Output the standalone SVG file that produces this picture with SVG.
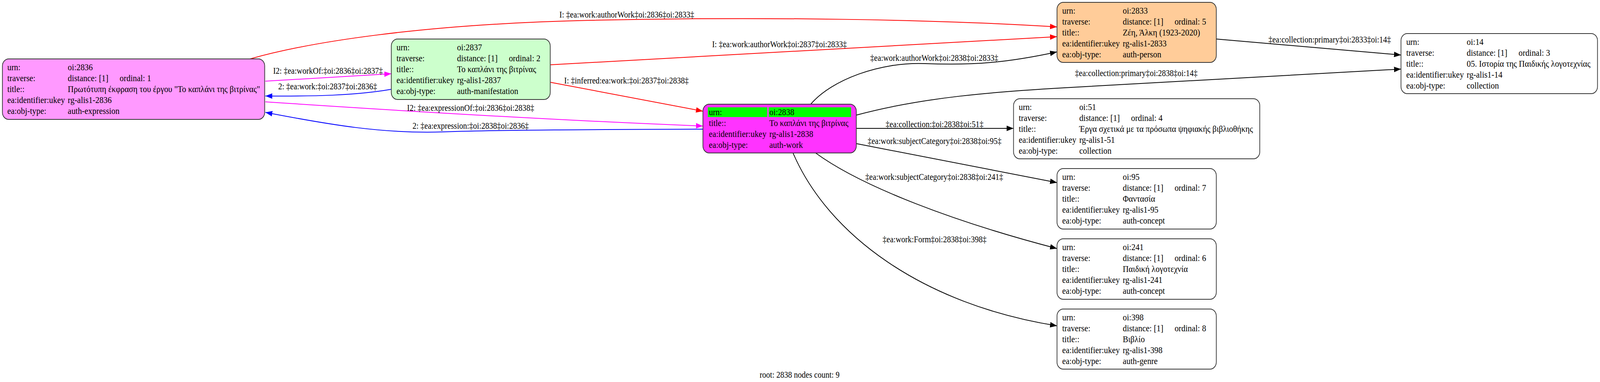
<svg xmlns="http://www.w3.org/2000/svg" width="4600" height="979" viewBox="0 0 4600 979">
<style>
text { font-family: "Liberation Serif", "Times New Roman", serif; font-size: 23.5px; fill: #000; }
.lbl { text-anchor: middle; font-size: 22.5px; }
.box { stroke: #333; stroke-width: 2; }
.e { fill: none; stroke-width: 2; }
.red { stroke: #ff0000; }
.mag { stroke: #ff00ff; }
.blu { stroke: #0000ff; }
.blk { stroke: #000; }
</style>
<defs>
<marker id="ar" markerUnits="userSpaceOnUse" markerWidth="20" markerHeight="14" refX="20" refY="7" orient="auto"><path d="M0,0 L20,7 L0,14 z" fill="#ff0000"/></marker>
<marker id="am" markerUnits="userSpaceOnUse" markerWidth="20" markerHeight="14" refX="20" refY="7" orient="auto"><path d="M0,0 L20,7 L0,14 z" fill="#ff00ff"/></marker>
<marker id="ab" markerUnits="userSpaceOnUse" markerWidth="20" markerHeight="14" refX="20" refY="7" orient="auto"><path d="M0,0 L20,7 L0,14 z" fill="#0000ff"/></marker>
<marker id="ak" markerUnits="userSpaceOnUse" markerWidth="20" markerHeight="14" refX="20" refY="7" orient="auto"><path d="M0,0 L20,7 L0,14 z" fill="#000"/></marker>
</defs>
<rect x="0" y="0" width="4600" height="979" fill="#fff"/>
<g id="diagram" transform="scale(0.8904 1)">
<g id="connectors">
<path class="e red" marker-end="url(#ar)" d="M719,151 C880,110 1200,62 1700,52 C2200,42 2700,50 3039,69"/>
<path class="e red" marker-end="url(#ar)" d="M1583,166 L3039,94"/>
<path class="e red" marker-end="url(#ar)" d="M1583,211 L2021,285"/>
<path class="e mag" marker-end="url(#am)" d="M763,208 L1125,189"/>
<path class="e blu" marker-end="url(#ab)" d="M1124,229 C1020,245 900,247 763,246"/>
<path class="e mag" marker-end="url(#am)" d="M763,261 Q1500,305 2021,323"/>
<path class="e blu" marker-end="url(#ab)" d="M2021,331 C1700,332 1450,333 1274,338 C1100,343 950,320 763,288"/>
<path class="e blk" marker-end="url(#ak)" d="M2331,267 C2390,205 2530,158 2660,163 C2800,168 2900,160 3039,133"/>
<path class="e blk" marker-end="url(#ak)" d="M2462,295 C2650,250 2850,235 3100,223 L4028,177"/>
<path class="e blk" marker-end="url(#ak)" d="M3497,100 L4028,141"/>
<path class="e blk" marker-end="url(#ak)" d="M2462,329 L2914,329"/>
<path class="e blk" marker-end="url(#ak)" d="M2462,368 L3039,468"/>
<path class="e blk" marker-end="url(#ak)" d="M2345,392 C2480,480 2750,570 3039,637"/>
<path class="e blk" marker-end="url(#ak)" d="M2280,392 C2380,600 2650,780 3039,835"/>
<text class="lbl" x="1802" y="45">I: ‡ea:work:authorWork‡oi:2836‡oi:2833‡</text>
<text class="lbl" x="2241" y="121">I: ‡ea:work:authorWork‡oi:2837‡oi:2833‡</text>
<text class="lbl" x="1801" y="214">I: ‡inferred:ea:work:‡oi:2837‡oi:2838‡</text>
<text class="lbl" x="943" y="189">I2: ‡ea:workOf:‡oi:2836‡oi:2837‡</text>
<text class="lbl" x="942" y="229">2: ‡ea:work:‡oi:2837‡oi:2836‡</text>
<text class="lbl" x="1353" y="284">I2: ‡ea:expressionOf:‡oi:2836‡oi:2838‡</text>
<text class="lbl" x="1353" y="330">2: ‡ea:expression:‡oi:2838‡oi:2836‡</text>
<text class="lbl" x="2686" y="156">‡ea:work:authorWork‡oi:2838‡oi:2833‡</text>
<text class="lbl" x="3267" y="195">‡ea:collection:primary‡oi:2838‡oi:14‡</text>
<text class="lbl" x="3823" y="109">‡ea:collection:primary‡oi:2833‡oi:14‡</text>
<text class="lbl" x="2687" y="326">‡ea:collection:‡oi:2838‡oi:51‡</text>
<text class="lbl" x="2687" y="369">‡ea:work:subjectCategory‡oi:2838‡oi:95‡</text>
<text class="lbl" x="2686" y="461">‡ea:work:subjectCategory‡oi:2838‡oi:241‡</text>
<text class="lbl" x="2687" y="621">‡ea:work:Form‡oi:2838‡oi:398‡</text>
</g>

<g id="node-2836">
<rect class="box" x="7" y="151" width="754" height="155" rx="18" fill="#ff99ff"/>
<text x="21" y="180">urn:</text><text x="195" y="180">oi:2836</text>
<text x="21" y="208">traverse:</text><text x="195" y="208">distance: [1]</text><text x="344" y="208">ordinal: 1</text>
<text x="21" y="236">title::</text><text x="195" y="236">Πρωτότυπη έκφραση του έργου "Το καπλάνι της βιτρίνας"</text>
<text x="21" y="264">ea:identifier:ukey</text><text x="195" y="264">rg-alis1-2836</text>
<text x="21" y="292">ea:obj-type:</text><text x="195" y="292">auth-expression</text>
</g>

<g id="node-2837">
<rect class="box" x="1125" y="100" width="457" height="155" rx="18" fill="#ccffcc"/>
<text x="1140" y="129">urn:</text><text x="1314" y="129">oi:2837</text>
<text x="1140" y="157">traverse:</text><text x="1314" y="157">distance: [1]</text><text x="1463" y="157">ordinal: 2</text>
<text x="1140" y="185">title::</text><text x="1314" y="185">Το καπλάνι της βιτρίνας</text>
<text x="1140" y="213">ea:identifier:ukey</text><text x="1314" y="213">rg-alis1-2837</text>
<text x="1140" y="241">ea:obj-type:</text><text x="1314" y="241">auth-manifestation</text>
</g>

<g id="node-2838">
<rect class="box" x="2021" y="267" width="441" height="125" rx="18" fill="#ff33ff"/>
<rect x="2035" y="275" width="171" height="25" fill="#00ff00"/>
<rect x="2210" y="275" width="237" height="25" fill="#00ff00"/>
<text x="2038" y="295">urn:</text><text x="2212" y="295">oi:2838</text>
<text x="2038" y="323">title::</text><text x="2212" y="323">Το καπλάνι της βιτρίνας</text>
<text x="2038" y="351">ea:identifier:ukey</text><text x="2212" y="351">rg-alis1-2838</text>
<text x="2038" y="379">ea:obj-type:</text><text x="2212" y="379">auth-work</text>
</g>

<g id="node-2833">
<rect class="box" x="3039" y="6" width="458" height="154" rx="18" fill="#ffcc99"/>
<text x="3054" y="35">urn:</text><text x="3228" y="35">oi:2833</text>
<text x="3054" y="63">traverse:</text><text x="3228" y="63">distance: [1]</text><text x="3377" y="63">ordinal: 5</text>
<text x="3054" y="91">title::</text><text x="3228" y="91">Ζέη, Άλκη (1923-2020)</text>
<text x="3054" y="119">ea:identifier:ukey</text><text x="3228" y="119">rg-alis1-2833</text>
<text x="3054" y="147">ea:obj-type:</text><text x="3228" y="147">auth-person</text>
</g>

<g id="node-14">
<rect class="box" x="4028" y="86" width="565" height="154" rx="18" fill="#fff"/>
<text x="4043" y="115">urn:</text><text x="4217" y="115">oi:14</text>
<text x="4043" y="143">traverse:</text><text x="4217" y="143">distance: [1]</text><text x="4366" y="143">ordinal: 3</text>
<text x="4043" y="171">title::</text><text x="4217" y="171">05. Ιστορία της Παιδικής λογοτεχνίας</text>
<text x="4043" y="199">ea:identifier:ukey</text><text x="4217" y="199">rg-alis1-14</text>
<text x="4043" y="227">ea:obj-type:</text><text x="4217" y="227">collection</text>
</g>

<g id="node-51">
<rect class="box" x="2914" y="253" width="708" height="154" rx="18" fill="#fff"/>
<text x="2929" y="282">urn:</text><text x="3103" y="282">oi:51</text>
<text x="2929" y="310">traverse:</text><text x="3103" y="310">distance: [1]</text><text x="3252" y="310">ordinal: 4</text>
<text x="2929" y="338">title::</text><text x="3103" y="338">Έργα σχετικά με τα πρόσωπα ψηφιακής βιβλιοθήκης</text>
<text x="2929" y="366">ea:identifier:ukey</text><text x="3103" y="366">rg-alis1-51</text>
<text x="2929" y="394">ea:obj-type:</text><text x="3103" y="394">collection</text>
</g>

<g id="node-95">
<rect class="box" x="3039" y="432" width="458" height="155" rx="18" fill="#fff"/>
<text x="3054" y="461">urn:</text><text x="3228" y="461">oi:95</text>
<text x="3054" y="489">traverse:</text><text x="3228" y="489">distance: [1]</text><text x="3377" y="489">ordinal: 7</text>
<text x="3054" y="517">title::</text><text x="3228" y="517">Φαντασία</text>
<text x="3054" y="545">ea:identifier:ukey</text><text x="3228" y="545">rg-alis1-95</text>
<text x="3054" y="573">ea:obj-type:</text><text x="3228" y="573">auth-concept</text>
</g>

<g id="node-241">
<rect class="box" x="3039" y="612" width="458" height="155" rx="18" fill="#fff"/>
<text x="3054" y="641">urn:</text><text x="3228" y="641">oi:241</text>
<text x="3054" y="669">traverse:</text><text x="3228" y="669">distance: [1]</text><text x="3377" y="669">ordinal: 6</text>
<text x="3054" y="697">title::</text><text x="3228" y="697">Παιδική λογοτεχνία</text>
<text x="3054" y="725">ea:identifier:ukey</text><text x="3228" y="725">rg-alis1-241</text>
<text x="3054" y="753">ea:obj-type:</text><text x="3228" y="753">auth-concept</text>
</g>

<g id="node-398">
<rect class="box" x="3039" y="792" width="458" height="154" rx="18" fill="#fff"/>
<text x="3054" y="821">urn:</text><text x="3228" y="821">oi:398</text>
<text x="3054" y="849">traverse:</text><text x="3228" y="849">distance: [1]</text><text x="3377" y="849">ordinal: 8</text>
<text x="3054" y="877">title::</text><text x="3228" y="877">Βιβλίο</text>
<text x="3054" y="905">ea:identifier:ukey</text><text x="3228" y="905">rg-alis1-398</text>
<text x="3054" y="933">ea:obj-type:</text><text x="3228" y="933">auth-genre</text>
</g>

<text class="lbl" x="2299" y="968">root: 2838 nodes count: 9</text>
</g>
</svg>
